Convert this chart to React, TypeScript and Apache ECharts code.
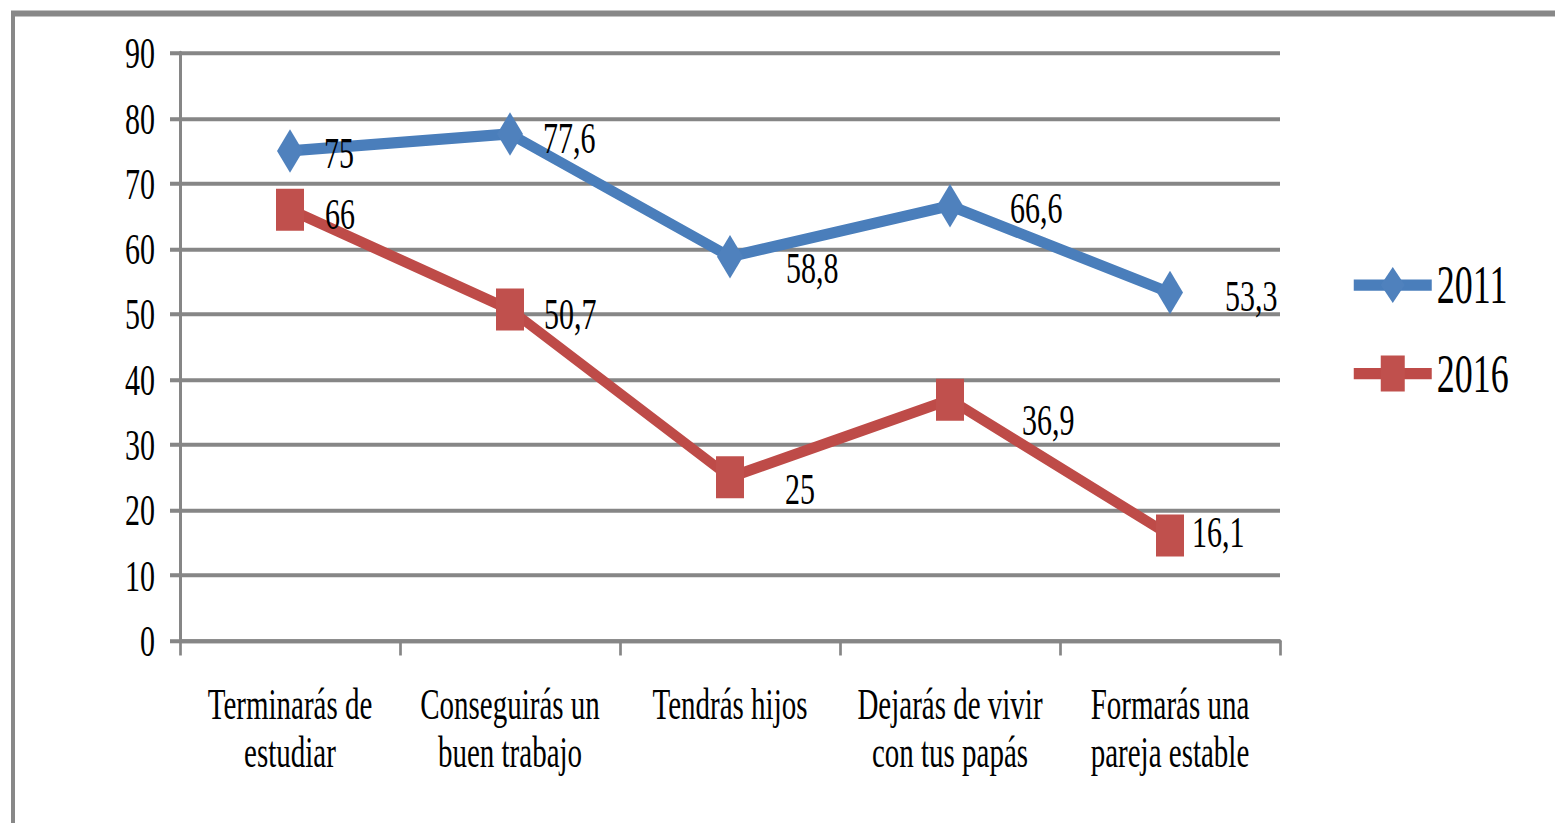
import React, { useEffect, useRef } from "react";
import * as echarts from "echarts";

// ---- data ----
const categories = [
  "Terminarás de\nestudiar",
  "Conseguirás un\nbuen trabajo",
  "Tendrás hijos",
  "Dejarás de vivir\ncon tus papás",
  "Formarás una\npareja estable",
];
const seriesNames = ["2011", "2016"];
const values2011 = [75, 77.6, 58.8, 66.6, 53.3];
const values2016 = [66, 50.7, 25, 36.9, 16.1];
const yMin = 0;
const yMax = 90;
const yInterval = 10;

// ---- label placement (px): [x from marker centre to label's left edge, y shift of label centre] ----
const labelShift2011 = [[34, 2], [33, 4], [56, 11], [60, 2], [55, 3]];
const labelShift2016 = [[35, 4], [34, 4], [55, 11], [72, 20], [22, -4]];

// The reference is vertically stretched; draw at 1/STRETCH height and scale the page element.
const STRETCH = 1.5;
const W = 1555;
const H = 823 / STRETCH;
const FONT = "Liberation Serif, Times New Roman, serif";
const GRAY = "#868686";

const fmt = (v: number) => String(v).replace(".", ",");

export default function App() {
  const ref = useRef<HTMLDivElement>(null);

  useEffect(() => {
    if (!ref.current) return;
    const chart = echarts.init(ref.current, undefined, { renderer: "svg" });

    const mk = (
      name: string,
      vals: number[],
      shifts: number[][],
      symbol: string,
      symbolSize: number | number[],
      halfW: number,
      lineColor: string,
      markerColor: string
    ) => ({
      name,
      type: "line",
      data: vals.map((v, i) => ({
        value: v,
        label: { offset: [shifts[i][0] - halfW, shifts[i][1] / STRETCH] },
      })),
      symbol,
      symbolSize,
      lineStyle: { color: lineColor, width: 7.5 },
      itemStyle: { color: markerColor },
      label: {
        show: true,
        position: "right",
        distance: 0,
        fontSize: 30,
        fontFamily: FONT,
        color: "#000",
        formatter: (p: any) => fmt(p.value),
      },
      emphasis: { disabled: true },
    });

    chart.setOption({
      animation: false,
      backgroundColor: "#fff",
      textStyle: { fontFamily: FONT },
      graphic: [
        {
          type: "rect",
          silent: true,
          z: -10,
          shape: { x: 13, y: 9, width: 1800, height: 900 },
          style: { fill: "none", stroke: "#888", lineWidth: 4 },
        },
      ],
      grid: {
        left: 180,
        right: W - 1280,
        top: 53 / STRETCH,
        bottom: H - 640 / STRETCH,
        containLabel: false,
        outerBoundsMode: "none",
      },
      legend: {
        orient: "vertical",
        left: 1345,
        top: 167,
        itemWidth: 78,
        itemHeight: 30,
        itemGap: 23,
        data: seriesNames,
        lineStyle: { width: 7.5 },
        textStyle: { fontSize: 36, fontFamily: FONT, color: "#000" },
      },
      xAxis: {
        type: "category",
        data: categories,
        boundaryGap: true,
        axisLine: { show: true, lineStyle: { color: GRAY, width: 2.7 } },
        axisTick: { show: true, length: 10, lineStyle: { color: GRAY, width: 2.7 } },
        axisLabel: {
          interval: 0,
          margin: 26,
          fontSize: 29,
          lineHeight: 32.5,
          color: "#000",
          fontFamily: FONT,
        },
        splitLine: { show: false },
      },
      yAxis: {
        type: "value",
        min: yMin,
        max: yMax,
        interval: yInterval,
        axisLine: { show: true, lineStyle: { color: GRAY, width: 3 } },
        axisTick: { show: true, length: 10, lineStyle: { color: GRAY, width: 2.7 } },
        axisLabel: { margin: 25, fontSize: 30, color: "#000", fontFamily: FONT },
        splitLine: { show: true, lineStyle: { color: GRAY, width: 2.7 } },
      },
      series: [
        mk(seriesNames[0], values2011, labelShift2011, "diamond", [26, 29], 13, "#4A7EBB", "#4F81BD"),
        mk(seriesNames[1], values2016, labelShift2016, "rect", 28, 14, "#BE4B48", "#C0504D"),
      ],
    });

    return () => chart.dispose();
  }, []);

  return (
    <div
      style={{
        position: "fixed",
        left: 0,
        top: 0,
        width: W,
        height: 823,
        background: "#fff",
        overflow: "hidden",
      }}
    >
      <div
        ref={ref}
        style={{
          position: "absolute",
          left: 0,
          top: 0,
          width: W,
          height: H,
          transform: `scaleY(${STRETCH})`,
          transformOrigin: "0 0",
        }}
      />
    </div>
  );
}
